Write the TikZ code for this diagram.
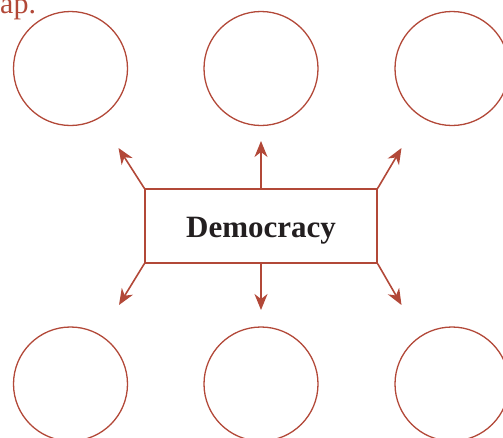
\documentclass[tikz,border=0pt]{standalone}
\usepackage{fontspec}
\setmainfont{Liberation Serif}
\usetikzlibrary{arrows.meta}
\definecolor{brick}{RGB}{178,72,56}
\definecolor{ink}{RGB}{35,31,32}
\tikzset{
  circ/.style={circle, draw=brick, line width=1.3pt, minimum size=114pt, inner sep=0pt},
  mainbox/.style={rectangle, draw=brick, line width=1.3pt, minimum width=232pt, minimum height=74pt, inner sep=0pt},
  maintext/.style={inner sep=0pt, font=\fontsize{31}{34}\selectfont\bfseries, text=ink},
  arr/.style={draw=brick, line width=1.6pt, -{Stealth[length=16pt,width=13pt,inset=5pt]}},
}
\begin{document}
\begin{tikzpicture}[x=1pt,y=-1pt]
\useasboundingbox (0,0) rectangle (503,437);
\clip (0,0) rectangle (503,437);
\node[anchor=base west, inner sep=0pt, text=brick, font=\fontsize{30}{32}\selectfont] (cap) at (0,13) {ap.};
\node[circ] (t1) at (70.5,68.5) {};
\node[circ] (t2) at (261,68.5) {};
\node[circ] (t3) at (452,68.5) {};
\node[circ] (b1) at (70.5,384) {};
\node[circ] (b2) at (261,384) {};
\node[circ] (b3) at (452,384) {};
\node[mainbox] (d) at (261,226) {};
\node[maintext, anchor=base] (dt) at (261,237) {Democracy};
\coordinate (a1) at (118.5,148);
\coordinate (a2) at (261,141);
\coordinate (a3) at (401.5,148);
\coordinate (a4) at (119,305);
\coordinate (a5) at (261,310);
\coordinate (a6) at (401.5,305);
\draw[arr] (d.north west) -- (a1);
\draw[arr] (d.north) -- (a2);
\draw[arr] (d.north east) -- (a3);
\draw[arr] (d.south west) -- (a4);
\draw[arr] (d.south) -- (a5);
\draw[arr] (d.south east) -- (a6);
\end{tikzpicture}
\end{document}
